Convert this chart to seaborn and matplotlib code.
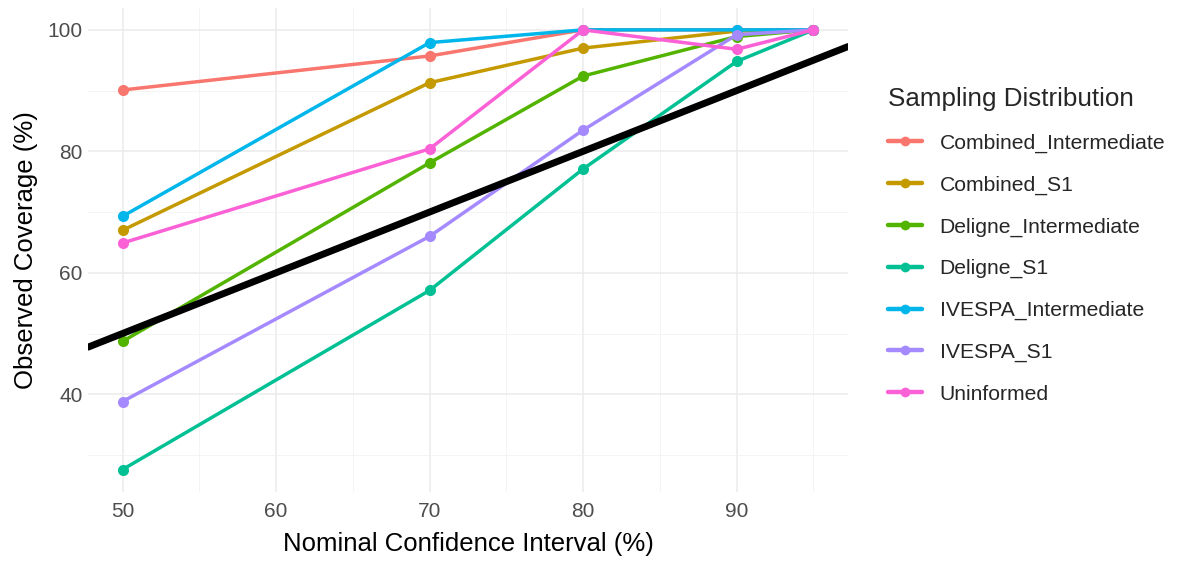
import matplotlib
matplotlib.use("Agg")
import matplotlib.pyplot as plt
import seaborn as sns
import pandas as pd
from matplotlib.ticker import MultipleLocator

nominal = [50, 70, 80, 90, 95]
combined_intermediate = [90.1, 95.7, 100.0, 100.0, 100.0]
combined_s1 = [67.0, 91.3, 97.0, 99.8, 100.0]
deligne_intermediate = [48.7, 78.1, 92.4, 98.9, 100.0]
deligne_s1 = [27.6, 57.1, 77.1, 94.8, 100.0]
ivespa_intermediate = [69.3, 97.9, 100.0, 100.0, 100.0]
ivespa_s1 = [38.8, 66.0, 83.5, 99.2, 100.0]
uninformed = [64.9, 80.4, 100.0, 96.8, 100.0]

series_names = ["Combined_Intermediate", "Combined_S1", "Deligne_Intermediate",
                "Deligne_S1", "IVESPA_Intermediate", "IVESPA_S1", "Uninformed"]
series_values = [combined_intermediate, combined_s1, deligne_intermediate,
                 deligne_s1, ivespa_intermediate, ivespa_s1, uninformed]
colors = ["#F8766D", "#C49A00", "#53B400", "#00C094", "#00B6EB", "#A58AFF", "#FB61D7"]

rows = []
for name, vals in zip(series_names, series_values):
    for x, y in zip(nominal, vals):
        rows.append({"Nominal": x, "Observed": y, "Sampling Distribution": name})
df = pd.DataFrame(rows)

sns.set_theme(style="white")
plt.rcParams['font.family'] = ['Liberation Sans', 'DejaVu Sans']

fig = plt.figure(figsize=(11.79, 5.61), dpi=100)
ax = fig.add_axes([88/1179, 1 - 492/561, (848-88)/1179, (492-8)/561])

sns.lineplot(data=df, x="Nominal", y="Observed", hue="Sampling Distribution",
             hue_order=series_names, palette=colors, marker="o", markersize=8,
             markeredgewidth=0, linewidth=2.5, ax=ax, legend=True)

ax.axline((50, 50), slope=1, color="black", linewidth=5, zorder=5)

xmin, xmax = 47.75, 97.25
ymin, ymax = 23.9, 103.6
ax.set_xlim(xmin, xmax)
ax.set_ylim(ymin, ymax)
ax.set_xticks([50, 60, 70, 80, 90])
ax.set_yticks([40, 60, 80, 100])
ax.xaxis.set_minor_locator(MultipleLocator(5))
ax.yaxis.set_minor_locator(MultipleLocator(10))
ax.grid(True, which="major", color="#EBEBEB", linewidth=1.1)
ax.grid(True, which="minor", color="#F2F2F2", linewidth=0.6)
ax.set_axisbelow(True)
for s in ax.spines.values():
    s.set_visible(False)
ax.tick_params(axis="both", which="both", length=0, labelsize=15, colors="#4D4D4D")
ax.tick_params(axis="x", pad=7)
ax.tick_params(axis="y", pad=4)
ax.set_xlabel("Nominal Confidence Interval (%)", fontsize=18.5, color="black", labelpad=8)
ax.set_ylabel("Observed Coverage (%)", fontsize=18.5, color="black", labelpad=7)

handles, labels = ax.get_legend_handles_labels()
for h in handles:
    h.set_linewidth(3.2)
    h.set_markersize(7)
ax.legend(handles, labels, title="Sampling Distribution", loc="upper left",
          bbox_to_anchor=(869/1179, 1 - 68/561), bbox_transform=fig.transFigure,
          frameon=False, fontsize=15.2, title_fontsize=18.7, labelspacing=1.07,
          handlelength=1.6, handletextpad=0.85, alignment="left")

fig.savefig("out.png", dpi=100)
